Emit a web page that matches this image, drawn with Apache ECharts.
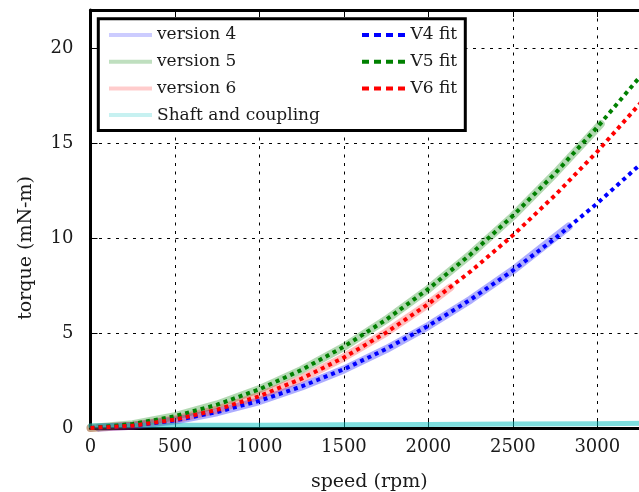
<!DOCTYPE html>
<html>
<head>
<meta charset="utf-8">
<script src="https://cdn.jsdelivr.net/npm/echarts@6/dist/echarts.min.js"></script>
<style>html,body{margin:0;padding:0;background:#fff;overflow:hidden}#c{width:648px;height:492px}</style>
</head>
<body>
<div id="c"></div>
<script>
// ---- data ----
const xTicks = [0, 500, 1000, 1500, 2000, 2500, 3000];
const yTicks = [0, 5, 10, 15, 20];

const v4Speed  = [50, 250, 500, 750, 1000, 1250, 1500, 1750, 2000, 2250, 2500, 2750, 2830];
const v4Torque = [0.02, 0.12, 0.39, 0.83, 1.42, 2.18, 3.08, 4.15, 5.37, 6.76, 8.30, 10.05, 10.60];

const v5Speed  = [0, 250, 500, 750, 1000, 1250, 1500, 1750, 2000, 2250, 2500, 2750, 3000, 3020];
const v5Torque = [0, 0.20, 0.62, 1.24, 2.05, 3.06, 4.27, 5.70, 7.32, 9.14, 11.15, 13.40, 15.80, 16.00];

const v6Speed  = [0, 250, 500, 750, 1000, 1250, 1500, 1750, 2000, 2130];
const v6Torque = [0, 0.12, 0.45, 0.97, 1.70, 2.60, 3.72, 5.03, 6.53, 7.40];

const shaftSpeed  = [0, 500, 1000, 1500, 2000, 2500, 3000, 3300];
const shaftTorque = [0.12, 0.14, 0.15, 0.17, 0.19, 0.21, 0.23, 0.25];

const fitSpeed = [0, 250, 500, 750, 1000, 1250, 1500, 1750, 2000, 2250, 2500, 2750, 3000, 3250, 3300];
const v4Fit = [0, 0.12, 0.40, 0.84, 1.43, 2.19, 3.09, 4.16, 5.38, 6.76, 8.29, 9.98, 11.83, 13.84, 14.26];
const v5Fit = [0, 0.21, 0.62, 1.23, 2.04, 3.06, 4.28, 5.70, 7.32, 9.14, 11.17, 13.40, 15.83, 18.46, 19.01];
const v6Fit = [0, 0.12, 0.44, 0.96, 1.68, 2.60, 3.71, 5.02, 6.53, 8.24, 10.14, 12.25, 14.55, 17.05, 17.57];

const legendLeft = ['version 4', 'version 5', 'version 6', 'Shaft and coupling'];
const legendRight = ['V4 fit', 'V5 fit', 'V6 fit'];

// ---- helpers ----
const zip = (xs, ys) => xs.map((x, i) => [x, ys[i]]);
const FONT = 'DejaVu Serif';
const TXT = '#1a1a1a';
const DASH_ICON = 'path://M0,0H7V4H0Z M12,0H19V4H12Z M24,0H31V4H24Z M36,0H43V4H36Z';

function halo(name, xs, ys, rgb, alpha, width) {
  return {
    name, type: 'line', data: zip(xs, ys), showSymbol: false, symbol: 'none',
    lineStyle: { color: `rgba(${rgb},${alpha})`, width: width, cap: 'round', join: 'round' },
    itemStyle: { color: `rgba(${rgb},${alpha})` },
    emphasis: { disabled: true }, animation: false, z: 2
  };
}
function fit(name, ys, color) {
  return {
    name, type: 'line', data: zip(fitSpeed, ys), showSymbol: false, symbol: 'none',
    lineStyle: { color, width: 4, type: [4, 4], cap: 'butt' },
    itemStyle: { color },
    emphasis: { disabled: true }, animation: false, z: 3
  };
}

const legendCommon = {
  orient: 'vertical', itemWidth: 43, itemHeight: 4, itemGap: 9.7,
  textStyle: { fontFamily: FONT, fontSize: 17, color: TXT, height: 16, lineHeight: 16 },
  selectedMode: false, z: 5
};

const chart = echarts.init(document.getElementById('c'), null, { renderer: 'canvas' });
chart.setOption({
  animation: false,
  backgroundColor: '#fff',
  grid: { left: 90.5, right: 0, top: 10, bottom: 64, containLabel: false, outerBoundsMode: 'none' },
  xAxis: [{
    type: 'value', min: 0, max: 3300, interval: 500,
    name: 'speed (rpm)', nameLocation: 'middle', nameGap: 45,
    nameTextStyle: { fontFamily: FONT, fontSize: 19, color: TXT },
    axisLine: { show: true, lineStyle: { color: '#000', width: 3 } },
    axisTick: { show: true, inside: true, length: 7, lineStyle: { color: '#000', width: 1 } },
    axisLabel: { fontFamily: FONT, fontSize: 18, color: TXT, margin: 10,
      formatter: v => xTicks.includes(v) ? String(v) : '' },
    splitLine: { show: true, lineStyle: { color: '#000', width: 1, type: [3, 5.5] } }
  }, {
    type: 'value', min: 0, max: 3300, interval: 500, position: 'top',
    axisLine: { show: true, lineStyle: { color: '#000', width: 3 } },
    axisTick: { show: true, inside: true, length: 7, lineStyle: { color: '#000', width: 1 } },
    axisLabel: { show: false }, splitLine: { show: false }
  }],
  yAxis: [{
    type: 'value', min: 0, max: 22, interval: 5,
    name: 'torque (mN-m)', nameLocation: 'middle', nameGap: 55,
    nameTextStyle: { fontFamily: FONT, fontSize: 19, color: TXT, padding: [0, 58, 0, 0] },
    axisLine: { show: true, lineStyle: { color: '#000', width: 3 } },
    axisTick: { show: true, inside: true, length: 7, lineStyle: { color: '#000', width: 1 } },
    axisLabel: { fontFamily: FONT, fontSize: 18, color: TXT, margin: 17,
      formatter: v => yTicks.includes(v) ? String(v) : '' },
    splitLine: { show: true, lineStyle: { color: '#000', width: 1, type: [3, 5.5] } }
  }],
  graphic: [{
    type: 'rect', z: 4, silent: true,
    shape: { x: 98.3, y: 18.7, width: 367, height: 111.8 },
    style: { fill: '#fff', stroke: '#000', lineWidth: 3 }
  }],
  legend: [
    Object.assign({}, legendCommon, {
      left: 104, top: 21.5,
      data: [
        { name: legendLeft[0], icon: 'rect', itemStyle: { color: 'rgba(0,0,255,0.2)' } },
        { name: legendLeft[1], icon: 'rect', itemStyle: { color: 'rgba(0,128,0,0.25)' } },
        { name: legendLeft[2], icon: 'rect', itemStyle: { color: 'rgba(255,0,0,0.2)' } },
        { name: legendLeft[3], icon: 'rect', itemStyle: { color: 'rgba(0,191,191,0.22)' } }
      ]
    }),
    Object.assign({}, legendCommon, {
      left: 357, top: 21.5, itemWidth: 44,
      data: [
        { name: legendRight[0], icon: DASH_ICON, itemStyle: { color: '#0000ff' } },
        { name: legendRight[1], icon: DASH_ICON, itemStyle: { color: '#008000' } },
        { name: legendRight[2], icon: DASH_ICON, itemStyle: { color: '#ff0000' } }
      ]
    })
  ],
  series: [
    halo(legendLeft[0], v4Speed, v4Torque, '0,0,255', 0.32, 8),
    halo(legendLeft[1], v5Speed, v5Torque, '0,128,0', 0.3, 8),
    halo(legendLeft[2], v6Speed, v6Torque, '255,0,0', 0.25, 8),
    halo(legendLeft[3], shaftSpeed, shaftTorque, '0,191,191', 0.5, 5),
    fit(legendRight[0], v4Fit, '#0000ff'),
    fit(legendRight[1], v5Fit, '#008000'),
    fit(legendRight[2], v6Fit, '#ff0000')
  ]
});
</script>
</body>
</html>
